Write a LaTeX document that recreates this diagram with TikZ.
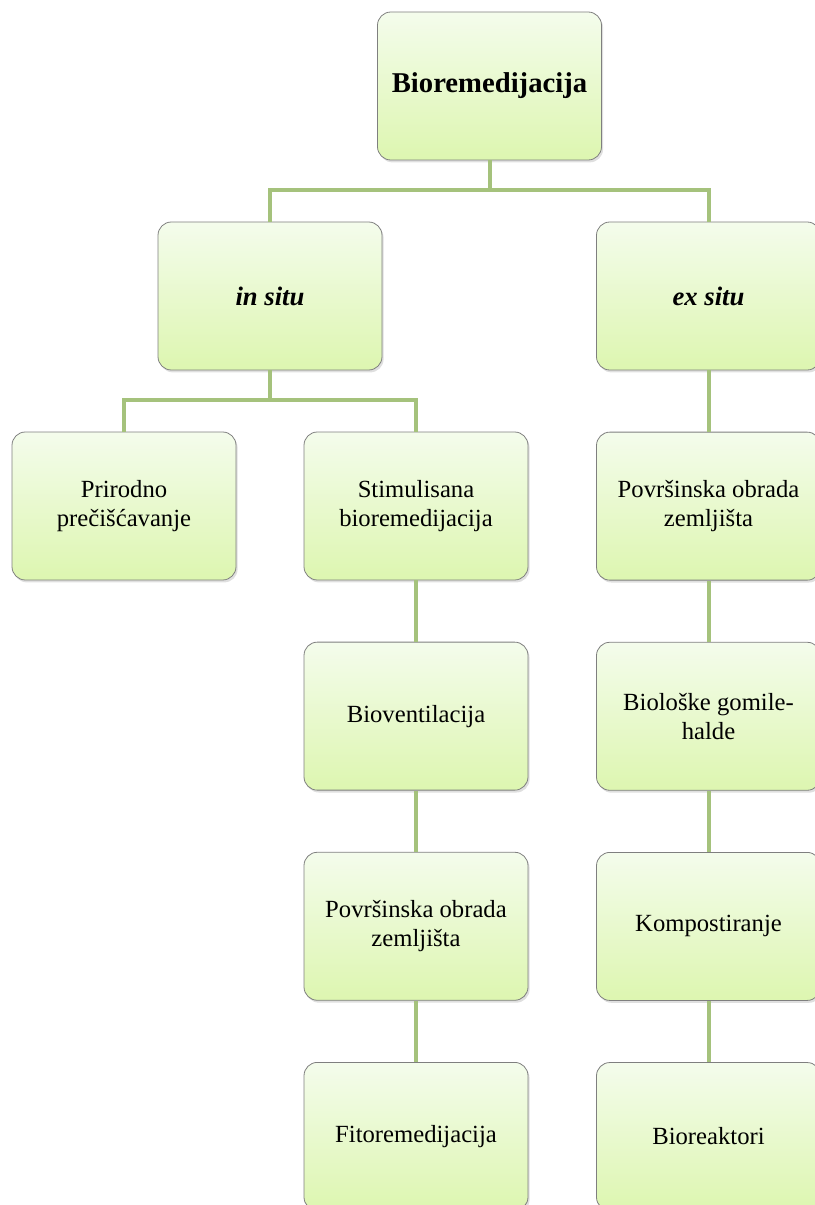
\documentclass[tikz,border=0pt]{standalone}
\usepackage{fontspec}
\setmainfont{Liberation Serif}
\usetikzlibrary{positioning,shadows}

\definecolor{linkgreen}{HTML}{A5C27C}
\definecolor{boxgray}{HTML}{7F7F7F}
\definecolor{boxtop}{HTML}{F4FCEC}
\definecolor{boxbottom}{HTML}{DDF6B0}

\begin{document}
\begin{tikzpicture}[
  x=0.75pt, y=-0.75pt,
  node distance=46pt and 51pt,
  box/.style={draw=boxgray, line width=0.6pt, rounded corners=10pt,
    top color=boxtop, bottom color=boxbottom,
    minimum width=168pt, minimum height=111pt, align=center,
    font=\fontsize{18.5}{21.5}\selectfont,
    drop shadow={opacity=0.25, shadow xshift=1.2pt, shadow yshift=-1.8pt}},
  link/.style={draw=linkgreen, line width=3pt},
]
\useasboundingbox (0,0) rectangle (814,1205);

% Nodes
\node[box, font=\fontsize{21.5}{24}\selectfont\bfseries] (root) at (489.5,86) {Bioremedijacija};
\node[box, font=\fontsize{20}{24}\selectfont\bfseries\itshape] (insitu) at (270,296) {in situ};
\node[box, font=\fontsize{20}{24}\selectfont\bfseries\itshape] (exsitu) at (708.5,296) {ex situ};
\node[box] (prirodno) at (124,506) {Prirodno\\prečišćavanje};
\node[box] (stimul) at (416,506) {Stimulisana\\bioremedijacija};
\node[box, below=of stimul] (bioventil) {Bioventilacija};
\node[box, below=of bioventil] (povrsin) {Površinska obrada\\zemljišta};
\node[box, below=of povrsin] (fitorem) {Fitoremedijacija};
\node[box, below=of exsitu] (povrsex) {Površinska obrada\\zemljišta};
\node[box, below=of povrsex] (gomile) {Biološke gomile-\\halde};
\node[box, below=of gomile] (kompost) {Kompostiranje};
\node[box, below=of kompost] (bioreakt) {Bioreaktori};

% Links
\draw[link] (root.south) -- ++(0,30) -| (insitu);
\draw[link] (root.south) -- ++(0,30) -| (exsitu);
\draw[link] (insitu.south) -- ++(0,30) -| (prirodno);
\draw[link] (insitu.south) -- ++(0,30) -| (stimul);
\draw[link] (stimul) -- (bioventil);
\draw[link] (bioventil) -- (povrsin);
\draw[link] (povrsin) -- (fitorem);
\draw[link] (exsitu) -- (povrsex);
\draw[link] (povrsex) -- (gomile);
\draw[link] (gomile) -- (kompost);
\draw[link] (kompost) -- (bioreakt);
\end{tikzpicture}
\end{document}
